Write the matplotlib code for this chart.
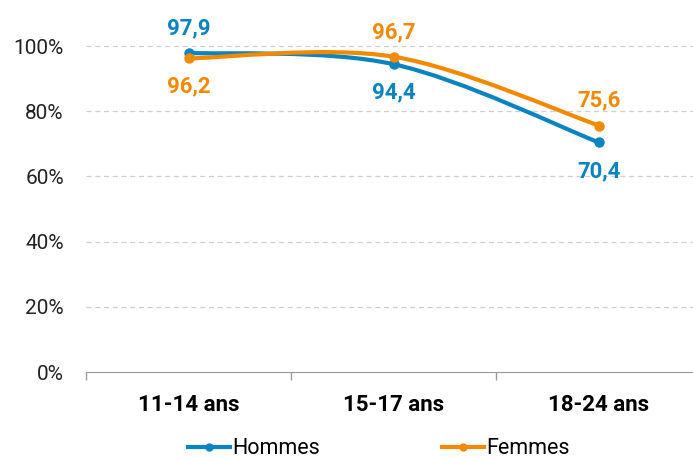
import matplotlib.pyplot as plt
from matplotlib.path import Path
from matplotlib.patches import PathPatch

categories = ["11-14 ans", "15-17 ans", "18-24 ans"]
hommes = [97.9, 94.4, 70.4]
femmes = [96.2, 96.7, 75.6]
hommes_lbl = ["97,9", "94,4", "70,4"]
femmes_lbl = ["96,2", "96,7", "75,6"]
yticks = [0, 20, 40, 60, 80, 100]

blue = "#0a84c1"
orange = "#f18a00"

plt.rcParams["font.family"] = ["Roboto", "DejaVu Sans"]

fig = plt.figure(figsize=(6.93, 4.59), dpi=100)
ax = fig.add_axes([86 / 693, 1 - 372 / 459, 607 / 693, 372 / 459])


def smooth_path(xs, ys):
    # courbe lissée type catmull-rom -> bezier
    pts = list(zip(xs, ys))
    verts = [pts[0]]
    codes = [Path.MOVETO]
    n = len(pts)
    for i in range(n - 1):
        p0 = pts[max(i - 1, 0)]
        p1 = pts[i]
        p2 = pts[i + 1]
        p3 = pts[min(i + 2, n - 1)]
        c1 = (p1[0] + (p2[0] - p0[0]) / 6, p1[1] + (p2[1] - p0[1]) / 6)
        c2 = (p2[0] - (p3[0] - p1[0]) / 6, p2[1] - (p3[1] - p1[1]) / 6)
        verts += [c1, c2, p2]
        codes += [Path.CURVE4] * 3
    return Path(verts, codes)


x = list(range(len(categories)))
for vals, col, name in [(hommes, blue, "Hommes"), (femmes, orange, "Femmes")]:
    ax.add_patch(PathPatch(smooth_path(x, vals), fill=False, edgecolor=col,
                           lw=3, capstyle="round", zorder=3))
    ax.plot(x, vals, "o", color=col, ms=6.5, zorder=4)
    ax.plot([], [], "-o", color=col, lw=3, ms=5, label=name)

# étiquettes des valeurs
pos_h = ["top", "bottom", "bottom"]  # top = au-dessus
pos_f = ["bottom", "top", "top"]
for vals, lbls, pos, col in [(hommes, hommes_lbl, pos_h, blue),
                             (femmes, femmes_lbl, pos_f, orange)]:
    for i, (v, t, p) in enumerate(zip(vals, lbls, pos)):
        if p == "top":
            ax.annotate(t, (i, v), xytext=(0, 13.5), textcoords="offset points",
                        ha="center", va="baseline", color=col, fontsize=16,
                        fontweight="bold")
        else:
            ax.annotate(t, (i, v), xytext=(0, -12.5), textcoords="offset points",
                        ha="center", va="top", color=col, fontsize=16,
                        fontweight="bold")

ax.set_xticks([-0.5, 0.5, 1.5, 2.5])
ax.set_xticks(x, minor=True)
ax.set_xticklabels([])
ax.set_xticklabels(categories, minor=True, fontsize=16, fontweight="bold")
ax.tick_params(axis="x", which="major", length=6, color="#999999", width=1)
ax.tick_params(axis="x", which="minor", length=0, pad=15.5)
ax.set_yticks(yticks)
ax.set_yticklabels([f"{v}%" for v in yticks], fontsize=15, color="#222222")
ax.tick_params(axis="y", length=0, pad=16)
# limites après les ticks (set_xticks élargit la vue)
ax.set_xlim(-0.5, -0.5 + 607 / 205.2)
ax.set_ylim(0, 372 / 3.26)

for v in yticks[1:]:
    ax.axhline(v, color="#cfcfcf", lw=0.9, ls=(0, (4, 3)), zorder=1)

for s in ["top", "right", "left"]:
    ax.spines[s].set_visible(False)
ax.spines["bottom"].set_color("#999999")

fig.legend(loc="center", bbox_to_anchor=(379 / 693, 1 - 449 / 459), ncol=2,
           frameon=False, fontsize=15.5, handlelength=1.95, handletextpad=0.1,
           columnspacing=5.7)

fig.savefig("out.png", dpi=100)
